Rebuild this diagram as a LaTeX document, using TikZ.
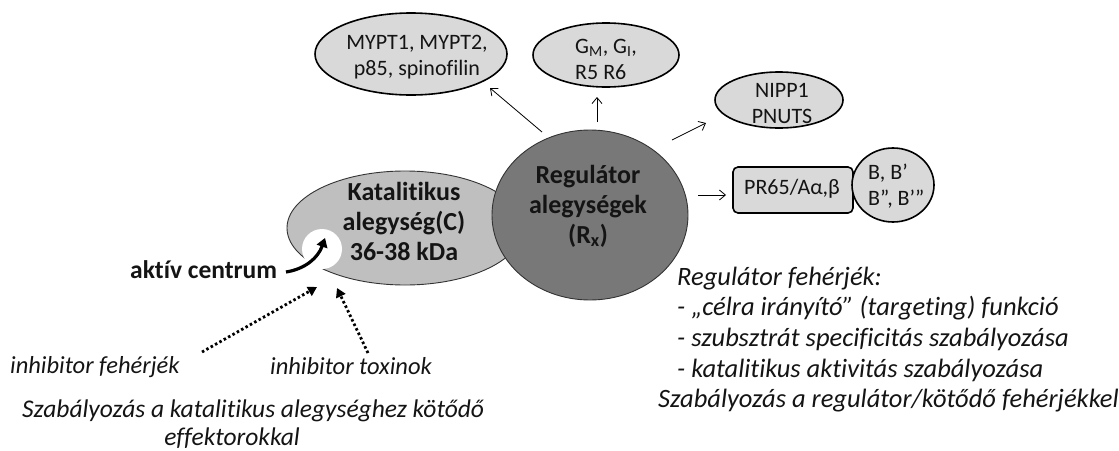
\documentclass[tikz,border=0pt]{standalone}
\usepackage{fontspec}
\setmainfont{Carlito}[Ligatures={NoCommon}]
\usetikzlibrary{shapes.geometric,arrows.meta}
\definecolor{catfill}{RGB}{191,191,191}
\definecolor{regfill}{RGB}{120,120,120}
\definecolor{smallfill}{RGB}{217,217,217}
\definecolor{txt}{RGB}{20,20,20}
\tikzset{
  smallell/.style={ellipse, draw=black, line width=1.6pt, fill=smallfill, inner sep=0pt},
  smalltxt/.style={inner sep=0pt, align=center, text=txt, font=\fontsize{22}{26}\selectfont},
  boldtxt/.style={inner sep=0pt, align=center, text=txt, font=\fontsize{26}{30}\selectfont\bfseries},
  ittxt/.style={inner sep=0pt, anchor=base west, text=txt, font=\fontsize{26.5}{30}\selectfont\itshape},
  ittxtl/.style={inner sep=0pt, anchor=base west, text=txt, font=\fontsize{24.5}{30}\selectfont\itshape},
  ittxtb/.style={inner sep=0pt, anchor=base west, text=txt, font=\fontsize{25.5}{30}\selectfont\itshape},
  thinarrow/.style={-{Straight Barb[length=6pt,width=10pt]}, line width=0.8pt, black},
  dotarrow/.style={-{Triangle[length=9pt,width=10pt]}, line width=2.8pt, dash pattern=on 2.5pt off 2.5pt, black},
}
\begin{document}
\begin{tikzpicture}[x=1pt,y=-1pt]
\useasboundingbox (0,0) rectangle (1119,450);
% catalytic subunit
\node[ellipse, draw=black!80, line width=0.9pt, fill=catfill, minimum width=236pt, minimum height=114pt, inner sep=0pt] (cat) at (405,228) {};
\node[circle, fill=white, minimum size=40pt, inner sep=0pt] (act) at (322,249) {};
% regulator circle
\node[ellipse, draw=black!80, line width=0.9pt, fill=regfill, minimum width=196pt, minimum height=170pt, inner sep=0pt] (reg) at (590,215) {};
\node[boldtxt] (cattxt) at (404,221) {Katalitikus\\alegység(C)\\36-38 kDa};
\node[boldtxt] (regtxt) at (588,206) {Regulátor\\alegységek\\(R\textsubscript{x})};
% small ellipses
\node[smallell, minimum width=192pt, minimum height=82pt] (mypt) at (411,54) {};
\node[smalltxt] (mypttxt) at (417,57) {MYPT1, MYPT2,\\p85, spinofilin};
\node[smallell, minimum width=146pt, minimum height=64pt] (gm) at (606,55) {};
\node[smalltxt, align=left, anchor=west] (gmtxt) at (575,59) {G\textsubscript{M}, G\textsubscript{I},\\R5 R6};
\node[smallell, minimum width=128pt, minimum height=56pt] (nipp) at (779,100) {};
\node[smalltxt] (nipptxt) at (782,103) {NIPP1\\PNUTS};
% PR65 box and B circle
\node[draw=black, line width=1.6pt, fill=smallfill, rounded corners=5pt, minimum width=120pt, minimum height=46pt, inner sep=0pt] (pr) at (793,190) {};
\node[smalltxt] (prtxt) at (792,189) {PR65/Aα,β};
\node[smallell, minimum width=82pt, minimum height=74pt] (bcirc) at (893,185) {};
\node[smalltxt, align=left, anchor=west] (btxt) at (868,186) {B, B’\\B”, B’”};
% arrows from regulator
\coordinate (a1s) at (542,132); \coordinate (a1e) at (490,88);
\coordinate (a2s) at (597,122); \coordinate (a2e) at (597,97);
\coordinate (a3s) at (672,140); \coordinate (a3e) at (706,123);
\coordinate (a4s) at (698,195); \coordinate (a4e) at (726,195);
\draw[thinarrow] (a1s) -- (a1e);
\draw[thinarrow] (a2s) -- (a2e);
\draw[thinarrow] (a3s) -- (a3e);
\draw[thinarrow] (a4s) -- (a4e);
% active centre
\node[inner sep=0pt, anchor=base west, text=txt, font=\fontsize{25.5}{30}\selectfont\bfseries] (akt) at (130,278) {aktív centrum};
\coordinate (aks) at (286,272);
\coordinate (ake) at (325,238);
\draw[line width=3.2pt, -{Triangle[length=9pt,width=11pt]}] (aks) .. controls (305,269) and (318,258) .. (ake);
% inhibitors
\node[ittxtl] (inhf) at (10,373) {inhibitor fehérjék};
\node[ittxtl] (inht) at (270,374) {inhibitor toxinok};
\coordinate (d1s) at (202,352); \coordinate (d1e) at (317,287);
\coordinate (d2s) at (368,353); \coordinate (d2e) at (337,288);
\draw[dotarrow] (d1s) -- (d1e);
\draw[dotarrow] (d2s) -- (d2e);
\node[ittxtb] (szab1) at (22,417) {Szabályozás a katalitikus alegységhez kötődő};
\node[ittxtb, anchor=base] (szab2) at (232,445) {effektorokkal};
% regulator proteins text
\node[ittxt] (r1) at (677,285) {Regulátor fehérjék:};
\node[ittxt] (r2) at (677,315) {- „célra irányító” (targeting) funkció};
\node[ittxt] (r3) at (677,346) {- szubsztrát specificitás szabályozása};
\node[ittxt] (r4) at (677,377) {- katalitikus aktivitás szabályozása};
\node[ittxt] (r5) at (658,407) {Szabályozás a regulátor/kötődő fehérjékkel};
\end{tikzpicture}
\end{document}
